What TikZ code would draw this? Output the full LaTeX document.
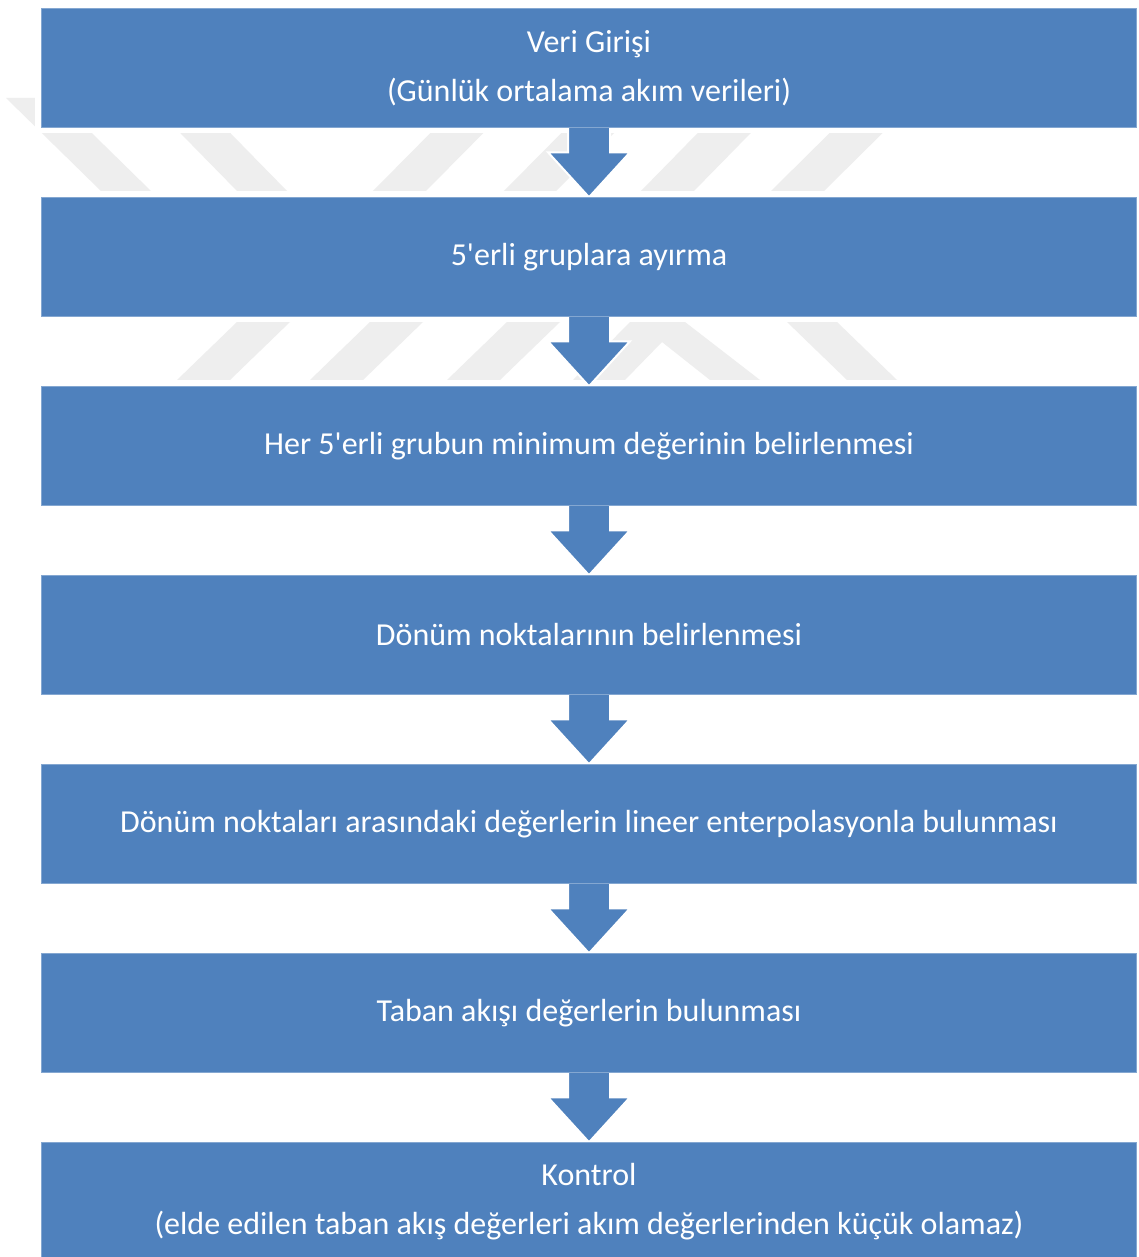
\documentclass[tikz,border=0pt]{standalone}
\usepackage{fontspec}
\setmainfont{Carlito}
\usetikzlibrary{calc}
\definecolor{boxblue}{HTML}{4F81BD}
\definecolor{wmgray}{HTML}{EEEEEE}
\pgfdeclarelayer{wm}
\pgfdeclarelayer{halo}
\pgfdeclarelayer{arr}
\pgfsetlayers{wm,halo,arr,main}
\newcommand\flowarr[2]{%
  \path[flowarrow] ($(#1.south)+(-21,-5)$) -- ($(#1.south)+(-21,25)$) -- ($(#1.south)+(-41,25)$) -- (#2.north)
    -- ($(#1.south)+(41,25)$) -- ($(#1.south)+(21,25)$) -- ($(#1.south)+(21,-5)$) -- cycle;}
\newcommand\boxhalo[1]{%
  \fill[white] ($(#1.north west)+(-6,-6)$) rectangle ($(#1.south east)+(6,6)$);}
\newcommand\sq{\textquotesingle}
\begin{document}
\begin{tikzpicture}[x=1pt,y=-1pt,
  stepbox/.style={fill=boxblue, draw=boxblue!70!white, line width=0.6pt,
    minimum width=1095pt, minimum height=118.5pt, inner sep=0pt, text=white,
    align=center, font=\fontsize{32}{49}\selectfont},
  flowarrow/.style={fill=boxblue, draw=white, line width=2pt, line join=miter},
  wmshape/.style={fill=wmgray}]
\useasboundingbox (0,0) rectangle (1139,1257);

\node[stepbox] (b1) at (589,67.75) {Veri Girişi\\(Günlük ortalama akım verileri)};
\node[stepbox] (b2) at (589,256.75) {5\sq erli gruplara ayırma};
\node[stepbox] (b3) at (589,445.75) {Her 5\sq erli grubun minimum değerinin belirlenmesi};
\node[stepbox] (b4) at (589,634.75) {Dönüm noktalarının belirlenmesi};
\node[stepbox] (b5) at (589,823.75) {Dönüm noktaları arasındaki değerlerin lineer enterpolasyonla bulunması};
\node[stepbox] (b6) at (589,1012.75) {Taban akışı değerlerin bulunması};
\node[stepbox] (b7) at (589,1201.75) {Kontrol\\(elde edilen taban akış değerleri akım değerlerinden küçük olamaz)};

\begin{pgfonlayer}{wm}
  \fill[white] (0,0) rectangle (1139,1257);
  % row 1
  \fill[wmshape] (6,98) -- (56,98) -- (152,192) -- (102,192) -- cycle;
  \fill[wmshape] (146,98) -- (196,98) -- (288,192) -- (238,192) -- cycle;
  \fill[wmshape] (465,98) -- (518,98) -- (425,192) -- (372,192) -- cycle;
  \fill[wmshape] (596,98) -- (649,98) -- (555,192) -- (503,192) -- cycle;
  \fill[wmshape] (732,98) -- (785,98) -- (693,192) -- (640,192) -- cycle;
  \fill[wmshape] (865,98) -- (918,98) -- (823,192) -- (770,192) -- cycle;
  % row 2
  \fill[wmshape] (237,322) -- (290,322) -- (230,380) -- (177,380) -- cycle;
  \fill[wmshape] (370,322) -- (423,322) -- (363,380) -- (310,380) -- cycle;
  \fill[wmshape] (507,322) -- (560,322) -- (500,380) -- (447,380) -- cycle;
  \fill[wmshape] (573,380) -- (630,322) -- (685,322) -- (760,380) -- (710,380) -- (662,342) -- (625,380) -- cycle;
  \fill[wmshape] (787,322) -- (837,322) -- (897,380) -- (847,380) -- cycle;
\end{pgfonlayer}

\begin{pgfonlayer}{halo}
  \boxhalo{b1}\boxhalo{b2}\boxhalo{b3}\boxhalo{b4}\boxhalo{b5}\boxhalo{b6}\boxhalo{b7}
\end{pgfonlayer}

\begin{pgfonlayer}{arr}
  \flowarr{b1}{b2}
  \flowarr{b2}{b3}
  \flowarr{b3}{b4}
  \flowarr{b4}{b5}
  \flowarr{b5}{b6}
  \flowarr{b6}{b7}
\end{pgfonlayer}
\end{tikzpicture}
\end{document}
